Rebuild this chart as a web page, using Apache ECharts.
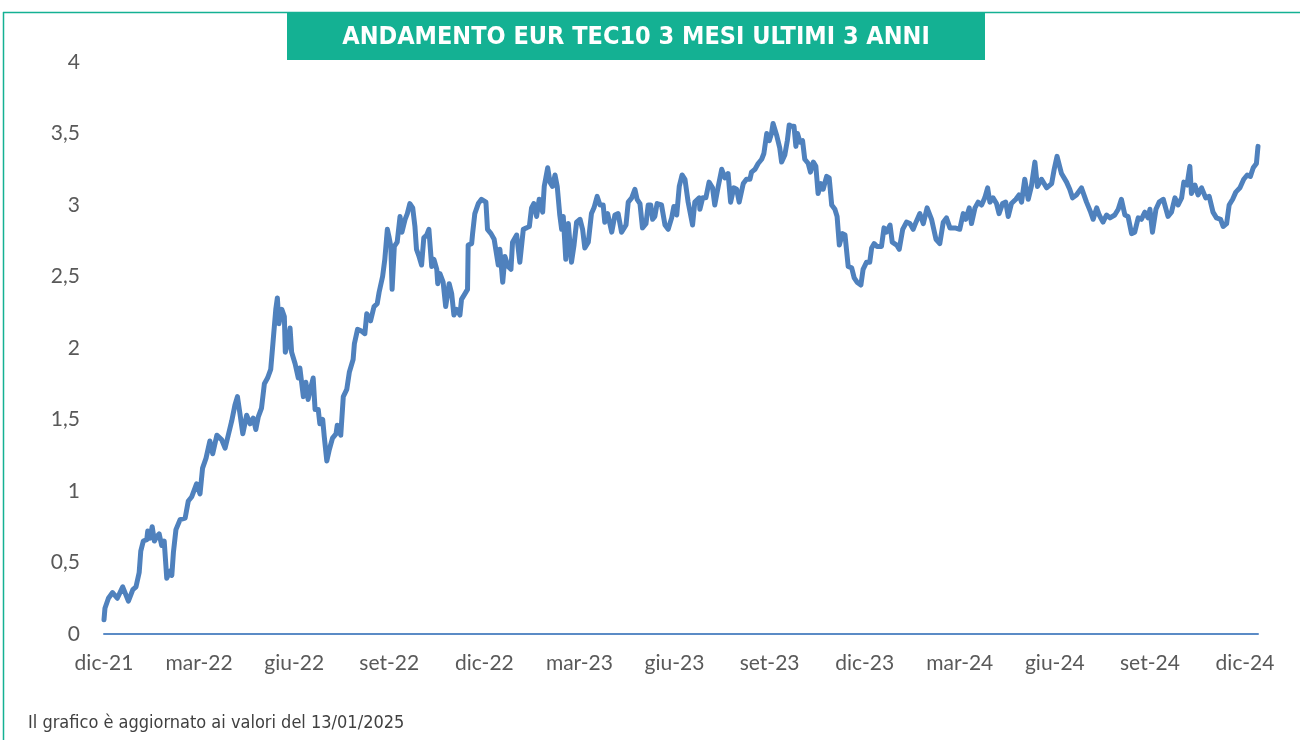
<!DOCTYPE html>
<html>
<head>
<meta charset="utf-8">
<title>Andamento EUR TEC10 3 mesi</title>
<script src="https://cdn.jsdelivr.net/npm/echarts@6/dist/echarts.min.js"></script>
<style>
  html, body { margin: 0; padding: 0; background: #fff; }
  #chart { width: 1300px; height: 740px; }
</style>
</head>
<body>
<div id="chart"></div>
<script>
// Andamento EUR TEC10 3 mesi, ultimi 3 anni.

const TITLE = "ANDAMENTO EUR TEC10 3 MESI ULTIMI 3 ANNI";
const FOOTER = "Il grafico è aggiornato ai valori del 13/01/2025";

// etichette trimestrali dell'asse x (una ogni 3 mesi da dic-21)
const tickLabels = ["dic-21", "mar-22", "giu-22", "set-22", "dic-22", "mar-23", "giu-23",
  "set-23", "dic-23", "mar-24", "giu-24", "set-24", "dic-24"];

// posizione in mesi da inizio dic-21
const months = [
  0, 0.03, 0.14, 0.27, 0.42, 0.59, 0.77, 0.91, 1.01, 1.11, 1.16, 1.24, 1.35, 1.38, 1.45, 1.52,
  1.59, 1.66, 1.74, 1.82, 1.9, 1.98, 2.08, 2.14, 2.19, 2.27, 2.4, 2.56, 2.66, 2.77, 2.92, 3.03,
  3.11, 3.22, 3.34, 3.43, 3.56, 3.71, 3.82, 3.92, 4.03, 4.13, 4.21, 4.29, 4.38, 4.5, 4.61, 4.71,
  4.79, 4.87, 4.97, 5.06, 5.16, 5.26, 5.34, 5.42, 5.47, 5.52, 5.61, 5.69, 5.72, 5.8, 5.87, 5.92,
  6.03, 6.13,
  6.18, 6.29, 6.37, 6.44, 6.52, 6.6, 6.66, 6.76, 6.81, 6.9, 6.95, 7.03, 7.11, 7.21, 7.32, 7.36,
  7.47, 7.55, 7.66, 7.74, 7.86, 7.9, 8.0, 8.11, 8.23, 8.29, 8.41, 8.52, 8.62, 8.68, 8.74, 8.79,
  8.86, 8.94, 8.99, 9.05, 9.09, 9.16, 9.25, 9.34, 9.4, 9.5, 9.57, 9.65, 9.74, 9.81, 9.86, 9.94,
  10.02, 10.09, 10.18, 10.25, 10.34, 10.41, 10.5, 10.53, 10.6, 10.7, 10.78, 10.89, 10.97, 11.04,
  11.13, 11.23, 11.28, 11.39, 11.47, 11.49, 11.6, 11.63, 11.7, 11.81, 11.91, 12.05, 12.1, 12.21,
  12.31, 12.44,
  12.49, 12.58, 12.65, 12.75, 12.84, 12.89, 13.02, 13.12, 13.23, 13.33, 13.42, 13.49, 13.56,
  13.65, 13.73, 13.84, 13.89, 14.0, 14.07, 14.15, 14.23, 14.3, 14.38, 14.44, 14.49, 14.57, 14.65,
  14.75, 14.83, 14.91, 15.02, 15.1, 15.17, 15.28, 15.38, 15.46, 15.56, 15.65, 15.75, 15.8, 15.89,
  16.02, 16.12, 16.22, 16.33, 16.47, 16.54, 16.65, 16.75, 16.82, 16.91, 16.99, 17.1, 17.17,
  17.25, 17.31, 17.38, 17.45, 17.59, 17.7, 17.8, 17.91, 17.98, 18.07, 18.15, 18.24, 18.33,
  18.43, 18.57, 18.64, 18.78,
  18.8, 18.89, 18.99, 19.09, 19.2, 19.27, 19.38, 19.49, 19.59, 19.69, 19.77, 19.87, 19.96,
  20.04, 20.17, 20.27, 20.38, 20.43, 20.54, 20.64, 20.75, 20.82, 20.91, 20.99, 21.06, 21.11,
  21.22, 21.32, 21.38, 21.48, 21.56, 21.62, 21.69, 21.77, 21.83, 21.88, 21.96, 22.04, 22.11,
  22.22, 22.29, 22.38, 22.46, 22.53, 22.62, 22.69, 22.8, 22.88, 22.96, 23.06, 23.13, 23.2,
  23.3, 23.38, 23.48, 23.59, 23.67, 23.76, 23.88, 23.95, 24.06, 24.16, 24.22, 24.3, 24.39,
  24.53, 24.61, 24.69, 24.8, 24.87, 25.01, 25.09,
  25.2, 25.32, 25.43, 25.53, 25.62, 25.74, 25.85, 25.97, 26.11, 26.25, 26.37, 26.48, 26.58,
  26.69, 26.85, 27.0, 27.11, 27.19, 27.3, 27.37, 27.48, 27.58, 27.69, 27.79, 27.88, 27.95,
  28.05, 28.16, 28.24, 28.35, 28.45, 28.53, 28.63, 28.77, 28.87, 28.95, 29.05, 29.16, 29.26,
  29.37, 29.45, 29.58, 29.74, 29.9, 29.98, 30.07, 30.21, 30.37, 30.47, 30.56, 30.68, 30.84,
  31.0, 31.13, 31.21, 31.32, 31.4,
  31.52, 31.63, 31.74, 31.89, 32.0, 32.1, 32.21, 32.31, 32.42, 32.52, 32.63, 32.73, 32.84,
  32.94, 33.0, 33.08, 33.19, 33.29, 33.42, 33.57, 33.68, 33.79, 33.89, 34.0, 34.07, 34.17,
  34.26, 34.31, 34.42, 34.52, 34.63, 34.76, 34.87, 34.99, 35.1, 35.23, 35.31, 35.42, 35.5,
  35.61, 35.71, 35.84, 35.96, 36.07, 36.17, 36.26, 36.36, 36.41
];

// rendimento in %
const rates = [
  0.1, 0.18, 0.25, 0.29, 0.25, 0.33, 0.23, 0.31, 0.33, 0.43, 0.58, 0.65, 0.66, 0.72, 0.67, 0.75,
  0.65, 0.68, 0.7, 0.62, 0.65, 0.39, 0.44, 0.41, 0.57, 0.73, 0.8, 0.81, 0.93, 0.96, 1.05, 0.98,
  1.16, 1.23, 1.35, 1.26, 1.39, 1.36, 1.3, 1.39, 1.49, 1.6, 1.66, 1.54, 1.4, 1.53, 1.47, 1.51,
  1.43, 1.52, 1.58, 1.75, 1.79, 1.85, 2.06, 2.27, 2.35, 2.17, 2.27, 2.22, 1.97, 2.03, 2.14, 1.97,
  1.89, 1.79,
  1.86, 1.66, 1.76, 1.64, 1.72, 1.79, 1.57, 1.57, 1.47, 1.5, 1.38, 1.21, 1.29, 1.37, 1.4, 1.46,
  1.39, 1.66, 1.71, 1.83, 1.92, 2.03, 2.13, 2.12, 2.1, 2.24, 2.19, 2.29, 2.31, 2.39, 2.38, 2.5,
  2.62, 2.83, 2.78, 2.71, 2.41, 2.71, 2.74, 2.92, 2.81, 2.9, 2.94, 3.01, 2.98, 2.85, 2.69, 2.64,
  2.58, 2.77, 2.79, 2.83, 2.57, 2.62, 2.55, 2.45, 2.52, 2.46, 2.29, 2.45, 2.38, 2.23,
  2.27, 2.23, 2.34, 2.38, 2.41, 2.72, 2.73, 2.8, 2.94, 3.01, 3.04, 3.02, 2.83, 2.8,
  2.76, 2.58,
  2.69, 2.46, 2.64, 2.57, 2.55, 2.74, 2.79, 2.6, 2.83, 2.84, 2.85, 2.98, 3.01,
  2.92, 3.04, 2.95, 3.13, 3.26, 3.16, 3.13, 3.21, 3.13, 2.93, 2.83, 2.92, 2.62, 2.87,
  2.6, 2.72, 2.88, 2.9, 2.83, 2.7, 2.74, 2.94, 2.98, 3.06, 3.0, 3.0, 2.88, 2.94,
  2.81, 2.93, 2.94, 2.81, 2.86, 3.02, 3.05, 3.11, 3.04, 3.01, 2.84, 2.87, 3.0,
  3.0, 2.9, 2.92, 3.01, 3.0, 2.86, 2.83, 2.91, 2.99, 2.93, 3.13, 3.21, 3.18,
  3.02, 2.86, 3.02, 3.05,
  2.97, 3.05, 3.05, 3.16, 3.12, 3.0, 3.13, 3.25, 3.19, 3.22, 3.02, 3.12, 3.11,
  3.02, 3.15, 3.18, 3.18, 3.23, 3.25, 3.29, 3.32, 3.36, 3.5, 3.45, 3.5, 3.57,
  3.49, 3.4, 3.3, 3.35, 3.45, 3.56, 3.55, 3.55, 3.41, 3.5, 3.44, 3.45, 3.32,
  3.29, 3.23, 3.3, 3.27, 3.08, 3.15, 3.11, 3.2, 3.19, 3.0, 2.97, 2.92, 2.72,
  2.8, 2.79, 2.57, 2.56, 2.49, 2.46, 2.44, 2.55, 2.6, 2.6, 2.7, 2.73, 2.71,
  2.71, 2.84, 2.81, 2.86, 2.74, 2.72, 2.69,
  2.83, 2.88, 2.87, 2.83, 2.88, 2.94, 2.87, 2.98, 2.9, 2.76, 2.73, 2.88, 2.91,
  2.84, 2.84, 2.83, 2.94, 2.9, 2.98, 2.87, 2.98, 3.02, 3.0, 3.05, 3.12, 3.02,
  3.05, 3.01, 2.94, 3.01, 3.02, 2.92, 3.01, 3.04, 3.07, 3.02, 3.18, 3.04, 3.13,
  3.3, 3.13, 3.18, 3.12, 3.15, 3.25, 3.34, 3.22, 3.16, 3.11, 3.05, 3.07, 3.12,
  3.02, 2.95, 2.9, 2.98, 2.93,
  2.88, 2.93, 2.91, 2.93, 2.97, 3.04, 2.93, 2.92, 2.8, 2.81, 2.91, 2.9, 2.95,
  2.91, 2.97, 2.81, 2.97, 3.02, 3.04, 2.92, 2.95, 3.05, 3.0, 3.05, 3.16, 3.14,
  3.27, 3.08, 3.14, 3.07, 3.12, 3.05, 3.06, 2.95, 2.91, 2.9, 2.85, 2.87, 3.0,
  3.04, 3.09, 3.12, 3.18, 3.21, 3.2, 3.26, 3.29, 3.41
];

const LINE_COLOR = "#4f81bd";
const TEAL = "#14b193";
const AXIS_TEXT = "#595959";

const chart = echarts.init(document.getElementById("chart"), null, { renderer: "canvas" });

chart.setOption({
  backgroundColor: "#fff",
  animation: false,
  grid: { left: 104, right: 42, top: 62, bottom: 106, containLabel: false },
  xAxis: {
    type: "value",
    min: 0,
    max: 36.41,
    interval: 3,
    axisLine: { show: true, onZero: false, lineStyle: { color: "#5b8bc6", width: 2 } },
    axisTick: { show: false },
    splitLine: { show: false },
    axisLabel: {
      color: AXIS_TEXT,
      fontFamily: "Lato, 'Liberation Sans', sans-serif",
      fontSize: 21,
      margin: 19,
      showMaxLabel: false,
      formatter: (v) => tickLabels[Math.round(v / 3)] || "",
    },
  },
  yAxis: {
    type: "value",
    min: 0,
    max: 4,
    interval: 0.5,
    axisLine: { show: false },
    axisTick: { show: false },
    splitLine: { show: false },
    axisLabel: {
      color: AXIS_TEXT,
      fontFamily: "Lato, 'Liberation Sans', sans-serif",
      fontSize: 21,
      margin: 24,
      formatter: (v) => String(v).replace(".", ","),
    },
  },
  series: [{
    type: "line",
    data: months.map((m, i) => [m, rates[i]]),
    showSymbol: false,
    smooth: false,
    lineStyle: { color: LINE_COLOR, width: 5, join: "round", cap: "round" },
    z: 3,
  }],
  graphic: [
    // cornice: linea superiore e sinistra
    { type: "line", shape: { x1: 3, y1: 12.5, x2: 1300, y2: 12.5 }, style: { stroke: TEAL, lineWidth: 1.5 } },
    { type: "line", shape: { x1: 3.5, y1: 12, x2: 3.5, y2: 740 }, style: { stroke: TEAL, lineWidth: 1.5 } },
    {
      type: "group",
      left: 287,
      top: 12,
      children: [
        { type: "rect", shape: { x: 0, y: 0, width: 698, height: 48 }, style: { fill: TEAL } },
        {
          type: "text",
          x: 349,
          y: 25,
          style: {
            text: TITLE,
            fill: "#fff",
            font: "bold 25px 'Liberation Sans Narrow', 'DejaVu Sans Condensed', sans-serif",
            textAlign: "center",
            textVerticalAlign: "middle",
          },
        },
      ],
    },
    {
      type: "text",
      left: 28,
      top: 714,
      style: {
        text: FOOTER,
        fill: "#404040",
        font: "18px 'Liberation Sans Narrow', 'DejaVu Sans Condensed', sans-serif",
      },
    },
  ],
});
</script>
</body>
</html>
